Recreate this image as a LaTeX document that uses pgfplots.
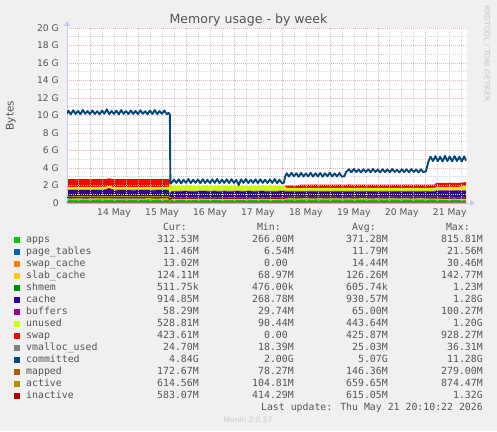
\documentclass[border=0pt]{standalone}
\usepackage{pgfplots}
\pgfplotsset{compat=1.18}
\usepackage{pgfplotstable}
\usepackage{fontspec}
\setmainfont{DejaVu Sans}
\newfontfamily\monofont{DejaVu Sans Mono}
\usetikzlibrary{arrows.meta}
\definecolor{bgc}{HTML}{F0F0F0}
\definecolor{txt}{HTML}{555555}
\definecolor{axc}{HTML}{C8CCF5}
\definecolor{mgrid}{HTML}{F0B4B4}
\definecolor{ngrid}{HTML}{D4D4D4}
\definecolor{cApps}{HTML}{00CC00}
\definecolor{cPt}{HTML}{0066B3}
\definecolor{cSwc}{HTML}{FF8000}
\definecolor{cSlab}{HTML}{FFCC00}
\definecolor{cShm}{HTML}{008F00}
\definecolor{cCache}{HTML}{330099}
\definecolor{cBuf}{HTML}{990099}
\definecolor{cUnused}{HTML}{CCFF00}
\definecolor{cSwap}{HTML}{FF0000}
\definecolor{cVmal}{HTML}{808080}
\definecolor{cComm}{HTML}{00487D}
\definecolor{cMapped}{HTML}{B35A00}
\definecolor{cActive}{HTML}{B38F00}
\definecolor{cInact}{HTML}{B30000}

\pgfplotstableread{
x apps pt swc slab shm cache buf unused swap vmal mapped active inactive
0.52 0.34 0.012 0.018 0.130 0.0006 0.96 0.060 0.30 0.90 0.024 0.13 0.72 0.62
0.60 0.35 0.012 0.019 0.131 0.0006 0.95 0.061 0.31 0.90 0.025 0.14 0.70 0.60
0.70 0.33 0.012 0.018 0.129 0.0006 0.97 0.062 0.29 0.90 0.024 0.12 0.73 0.63
0.80 0.36 0.011 0.017 0.132 0.0006 0.94 0.063 0.30 0.90 0.025 0.15 0.71 0.61
0.90 0.34 0.012 0.018 0.130 0.0006 0.96 0.064 0.31 0.90 0.026 0.13 0.74 0.59
1.00 0.33 0.012 0.019 0.128 0.0006 0.97 0.060 0.29 0.90 0.024 0.14 0.70 0.62
1.10 0.35 0.013 0.018 0.131 0.0006 0.95 0.061 0.30 0.90 0.025 0.16 0.72 0.64
1.20 0.37 0.012 0.017 0.133 0.0006 0.93 0.062 0.32 0.90 0.025 0.13 0.75 0.60
1.30 0.34 0.012 0.018 0.130 0.0006 0.98 0.063 0.28 0.90 0.024 0.14 0.71 0.61
1.40 0.36 0.012 0.019 0.129 0.0006 1.12 0.064 0.22 0.90 0.026 0.15 0.73 0.63
1.50 0.33 0.012 0.018 0.131 0.0006 0.96 0.060 0.30 0.90 0.025 0.12 0.70 0.60
1.60 0.35 0.011 0.017 0.130 0.0006 0.95 0.061 0.31 0.90 0.024 0.14 0.72 0.62
1.70 0.34 0.012 0.018 0.132 0.0006 0.97 0.062 0.29 0.90 0.025 0.13 0.74 0.61
1.80 0.36 0.012 0.019 0.129 0.0006 0.94 0.063 0.30 0.90 0.025 0.15 0.71 0.59
1.90 0.33 0.013 0.018 0.130 0.0006 0.96 0.064 0.31 0.90 0.024 0.14 0.72 0.63
2.00 0.35 0.012 0.017 0.131 0.0006 0.95 0.060 0.30 0.90 0.026 0.13 0.70 0.60
2.10 0.34 0.012 0.018 0.128 0.0006 0.97 0.061 0.29 0.90 0.025 0.16 0.73 0.62
2.20 0.37 0.012 0.019 0.130 0.0006 0.93 0.062 0.32 0.90 0.024 0.14 0.75 0.64
2.30 0.33 0.012 0.018 0.132 0.0006 0.96 0.063 0.30 0.90 0.025 0.13 0.71 0.61
2.40 0.35 0.011 0.017 0.131 0.0006 0.95 0.064 0.31 0.90 0.025 0.15 0.72 0.60
2.50 0.34 0.012 0.018 0.129 0.0006 0.97 0.060 0.29 0.90 0.024 0.14 0.70 0.62
2.60 0.36 0.012 0.019 0.130 0.0006 0.94 0.061 0.31 0.90 0.025 0.13 0.73 0.61
2.64 0.35 0.012 0.018 0.130 0.0006 0.92 0.062 0.33 0.90 0.025 0.14 0.72 0.60
2.66 0.55 0.013 0.030 0.140 0.0012 0.27 0.030 1.20 0.40 0.036 0.08 0.20 0.42
2.70 0.33 0.012 0.012 0.125 0.0005 0.84 0.066 0.54 0.00 0.025 0.12 0.60 0.57
2.80 0.32 0.012 0.013 0.126 0.0005 0.86 0.065 0.53 0.01 0.025 0.13 0.62 0.58
2.90 0.34 0.012 0.012 0.124 0.0005 0.85 0.064 0.52 0.01 0.024 0.14 0.61 0.56
3.00 0.33 0.011 0.013 0.125 0.0005 0.87 0.066 0.52 0.01 0.025 0.12 0.63 0.59
3.10 0.31 0.012 0.012 0.126 0.0005 0.86 0.065 0.55 0.01 0.026 0.13 0.60 0.57
3.20 0.33 0.012 0.013 0.124 0.0005 0.84 0.064 0.54 0.01 0.025 0.14 0.62 0.58
3.30 0.35 0.012 0.012 0.125 0.0005 0.86 0.066 0.50 0.01 0.024 0.13 0.64 0.60
3.40 0.32 0.012 0.013 0.126 0.0005 0.88 0.065 0.52 0.01 0.025 0.12 0.61 0.56
3.50 0.33 0.011 0.012 0.124 0.0005 0.85 0.064 0.54 0.01 0.025 0.14 0.62 0.58
3.60 0.34 0.012 0.013 0.125 0.0005 0.86 0.066 0.51 0.01 0.024 0.13 0.60 0.57
3.70 0.32 0.012 0.012 0.126 0.0005 0.84 0.065 0.55 0.01 0.026 0.12 0.63 0.59
3.80 0.33 0.012 0.013 0.124 0.0005 0.87 0.064 0.52 0.01 0.025 0.14 0.62 0.58
3.90 0.31 0.012 0.012 0.125 0.0005 0.86 0.066 0.54 0.01 0.025 0.13 0.61 0.56
4.00 0.34 0.011 0.013 0.126 0.0005 0.85 0.065 0.52 0.01 0.024 0.12 0.60 0.57
4.10 0.33 0.012 0.012 0.124 0.0005 0.87 0.064 0.51 0.01 0.025 0.13 0.63 0.59
4.20 0.32 0.012 0.013 0.125 0.0005 0.84 0.066 0.55 0.01 0.025 0.14 0.62 0.58
4.30 0.35 0.012 0.012 0.126 0.0005 0.86 0.065 0.50 0.01 0.026 0.13 0.61 0.57
4.40 0.33 0.012 0.013 0.124 0.0005 0.85 0.064 0.53 0.01 0.025 0.12 0.64 0.60
4.50 0.32 0.011 0.012 0.125 0.0005 0.87 0.066 0.52 0.01 0.024 0.14 0.62 0.58
4.60 0.34 0.012 0.013 0.126 0.0005 0.86 0.065 0.51 0.01 0.025 0.13 0.60 0.56
4.70 0.33 0.012 0.012 0.124 0.0005 0.84 0.064 0.54 0.01 0.025 0.12 0.63 0.59
4.80 0.31 0.012 0.013 0.125 0.0005 0.86 0.066 0.53 0.01 0.026 0.14 0.61 0.57
4.90 0.33 0.012 0.012 0.126 0.0005 0.85 0.065 0.53 0.01 0.025 0.13 0.62 0.58
5.00 0.34 0.012 0.013 0.124 0.0005 0.87 0.064 0.50 0.01 0.025 0.12 0.60 0.57
5.06 0.33 0.012 0.012 0.125 0.0005 0.86 0.065 0.52 0.01 0.024 0.13 0.61 0.58
5.10 0.36 0.012 0.014 0.125 0.0005 0.80 0.065 0.34 0.30 0.025 0.15 0.65 0.61
5.20 0.37 0.012 0.015 0.126 0.0005 0.79 0.066 0.35 0.30 0.025 0.16 0.66 0.62
5.30 0.35 0.011 0.014 0.124 0.0005 0.81 0.064 0.34 0.30 0.024 0.14 0.67 0.60
5.40 0.36 0.012 0.015 0.125 0.0005 0.80 0.065 0.33 0.38 0.025 0.15 0.65 0.63
5.50 0.38 0.012 0.014 0.126 0.0005 0.78 0.066 0.35 0.38 0.026 0.16 0.68 0.61
5.60 0.35 0.012 0.015 0.124 0.0005 0.82 0.064 0.34 0.38 0.025 0.14 0.64 0.62
5.70 0.36 0.012 0.014 0.125 0.0005 0.80 0.065 0.36 0.38 0.025 0.15 0.66 0.60
5.80 0.37 0.011 0.015 0.126 0.0005 0.79 0.066 0.33 0.38 0.024 0.16 0.67 0.64
5.90 0.35 0.012 0.014 0.124 0.0005 0.81 0.064 0.35 0.38 0.025 0.14 0.65 0.61
6.00 0.36 0.012 0.015 0.125 0.0005 0.80 0.065 0.34 0.38 0.025 0.15 0.68 0.62
6.10 0.38 0.012 0.014 0.126 0.0005 0.78 0.066 0.33 0.38 0.026 0.16 0.66 0.60
6.20 0.35 0.012 0.015 0.124 0.0005 0.82 0.064 0.35 0.38 0.025 0.14 0.64 0.63
6.30 0.36 0.012 0.014 0.125 0.0005 0.80 0.065 0.34 0.38 0.025 0.15 0.67 0.61
6.40 0.37 0.011 0.015 0.126 0.0005 0.79 0.066 0.36 0.38 0.024 0.16 0.65 0.62
6.50 0.35 0.012 0.014 0.124 0.0005 0.81 0.064 0.33 0.38 0.025 0.14 0.66 0.60
6.60 0.36 0.012 0.015 0.125 0.0005 0.80 0.065 0.35 0.38 0.025 0.15 0.68 0.64
6.70 0.38 0.012 0.014 0.126 0.0005 0.78 0.066 0.34 0.38 0.026 0.16 0.65 0.61
6.80 0.35 0.012 0.015 0.124 0.0005 0.82 0.064 0.33 0.38 0.025 0.14 0.67 0.62
6.90 0.36 0.012 0.014 0.125 0.0005 0.80 0.065 0.35 0.38 0.025 0.15 0.66 0.60
7.00 0.37 0.011 0.015 0.126 0.0005 0.79 0.066 0.34 0.38 0.024 0.16 0.64 0.63
7.10 0.35 0.012 0.014 0.124 0.0005 0.81 0.064 0.36 0.38 0.025 0.14 0.68 0.61
7.20 0.36 0.012 0.015 0.125 0.0005 0.80 0.065 0.33 0.38 0.025 0.15 0.65 0.62
7.30 0.38 0.012 0.014 0.126 0.0005 0.78 0.066 0.35 0.38 0.026 0.16 0.67 0.60
7.40 0.35 0.012 0.015 0.124 0.0005 0.82 0.064 0.34 0.38 0.025 0.14 0.66 0.64
7.50 0.36 0.012 0.014 0.125 0.0005 0.80 0.065 0.33 0.38 0.025 0.15 0.64 0.61
7.60 0.37 0.011 0.015 0.126 0.0005 0.79 0.066 0.35 0.38 0.024 0.16 0.68 0.62
7.70 0.35 0.012 0.014 0.124 0.0005 0.81 0.064 0.34 0.38 0.025 0.14 0.65 0.60
7.80 0.36 0.012 0.015 0.125 0.0005 0.80 0.065 0.36 0.38 0.025 0.15 0.67 0.63
7.90 0.38 0.012 0.014 0.126 0.0005 0.78 0.066 0.33 0.38 0.026 0.16 0.66 0.61
8.00 0.35 0.012 0.015 0.124 0.0005 0.82 0.064 0.35 0.38 0.025 0.14 0.64 0.62
8.10 0.36 0.012 0.014 0.125 0.0005 0.80 0.065 0.34 0.38 0.025 0.15 0.67 0.60
8.18 0.36 0.012 0.014 0.125 0.0005 0.80 0.065 0.34 0.38 0.025 0.15 0.66 0.61
8.22 0.33 0.012 0.015 0.125 0.0006 0.90 0.060 0.40 0.46 0.025 0.16 0.62 0.58
8.30 0.34 0.012 0.014 0.124 0.0006 0.89 0.061 0.41 0.46 0.025 0.17 0.63 0.59
8.40 0.32 0.012 0.015 0.125 0.0006 0.91 0.059 0.39 0.46 0.024 0.16 0.61 0.57
8.50 0.33 0.011 0.014 0.124 0.0006 0.90 0.060 0.42 0.46 0.025 0.17 0.62 0.58
8.60 0.34 0.012 0.013 0.125 0.0006 0.88 0.058 0.40 0.46 0.025 0.18 0.63 0.59
8.70 0.32 0.012 0.014 0.124 0.0006 0.91 0.059 0.41 0.46 0.025 0.17 0.61 0.58
8.80 0.31 0.012 0.013 0.124 0.0005 0.92 0.058 0.50 0.43 0.025 0.17 0.62 0.58
8.84 0.3125 0.0115 0.013 0.124 0.0005 0.915 0.058 0.529 0.424 0.0247 0.173 0.615 0.583
}\memdata

\pgfplotstableread{
x committed
0.52 10.20
0.55 10.55
0.60 10.15
0.65 10.60
0.70 10.18
0.75 10.52
0.80 10.15
0.85 10.62
0.90 10.20
0.95 10.50
1.00 10.16
1.05 10.58
1.10 10.18
1.15 10.48
1.20 10.14
1.25 10.55
1.30 10.20
1.35 10.70
1.40 10.15
1.45 10.50
1.50 10.18
1.55 10.56
1.60 10.14
1.65 10.62
1.70 10.20
1.75 10.50
1.80 10.16
1.85 10.58
1.90 10.18
1.95 10.52
2.00 10.15
2.05 10.60
2.10 10.20
2.15 10.48
2.20 10.15
2.25 10.56
2.30 10.18
2.35 10.62
2.40 10.16
2.45 10.50
2.50 10.20
2.55 10.58
2.60 10.15
2.64 10.30
2.665 10.10
2.675 2.30
2.70 2.28
2.75 2.68
2.80 2.30
2.85 2.72
2.90 2.25
2.95 2.65
3.00 2.30
3.05 2.75
3.10 2.28
3.15 2.66
3.20 2.30
3.25 2.70
3.30 2.26
3.35 2.72
3.40 2.30
3.45 2.64
3.50 2.28
3.55 2.70
3.60 2.30
3.65 2.74
3.70 2.27
3.75 2.66
3.80 2.30
3.85 2.70
3.90 2.28
3.95 2.72
4.00 2.30
4.05 2.65
4.10 2.05
4.15 2.70
4.20 2.30
4.25 2.74
4.30 2.28
4.35 2.66
4.40 2.30
4.45 2.70
4.50 2.27
4.55 2.72
4.60 2.30
4.65 2.66
4.70 2.28
4.75 2.70
4.80 2.30
4.85 2.74
4.90 2.26
4.95 2.65
5.00 2.28
5.04 2.30
5.07 3.05
5.10 3.40
5.15 3.02
5.20 3.45
5.25 3.05
5.30 3.40
5.35 3.00
5.40 3.44
5.45 3.03
5.50 3.38
5.55 3.05
5.60 3.45
5.65 3.02
5.70 3.40
5.75 3.04
5.80 3.43
5.85 3.00
5.90 3.40
5.95 3.05
6.00 3.45
6.05 3.03
6.10 3.38
6.15 3.04
6.20 3.42
6.25 3.02
6.30 3.05
6.34 3.55
6.40 3.85
6.45 3.52
6.50 3.88
6.55 3.55
6.60 3.82
6.65 3.50
6.70 3.86
6.75 3.54
6.80 3.84
6.85 3.52
6.90 3.88
6.95 3.55
7.00 3.82
7.05 3.50
7.10 3.86
7.15 3.53
7.20 3.84
7.25 3.52
7.30 3.88
7.35 3.55
7.40 3.80
7.45 3.50
7.50 3.86
7.55 3.54
7.60 3.84
7.65 3.52
7.70 3.87
7.75 3.55
7.80 3.82
7.85 3.50
7.90 3.85
7.95 3.53
8.00 3.60
8.06 4.80
8.10 5.30
8.15 4.80
8.20 5.35
8.25 4.78
8.30 5.28
8.35 4.75
8.40 5.38
8.45 4.80
8.50 5.30
8.55 4.76
8.60 5.35
8.65 4.80
8.70 5.28
8.75 4.75
8.80 5.32
8.84 4.84
}\commdata

\tikzset{lg/.style={font=\monofont\fontsize{9.9}{11}\selectfont, text=txt, inner sep=0pt}}
\newcommand{\lrow}[7]{%
  \pgfmathsetmacro{\yy}{431-240-11.98*#1}
  \fill[#2] (14,\yy-3) rectangle (20,\yy+3);
  \node[lg, anchor=mid west] at (26,\yy) {#3};
  \node[lg, anchor=mid east] at (199,\yy) {#4};
  \node[lg, anchor=mid east] at (294,\yy) {#5};
  \node[lg, anchor=mid east] at (388,\yy) {#6};
  \node[lg, anchor=mid east] at (483,\yy) {#7};
}

\pgfplotsset{
  memaxis/.style={
    at={(67bp,228bp)}, anchor=south west,
    scale only axis, width=400bp, height=175bp,
    xmin=0.52, xmax=8.86, ymin=0, ymax=20,
  }
}

\begin{document}
\begin{tikzpicture}[x=1bp,y=1bp]
\fill[bgc] (0,0) rectangle (497,431);
\fill[white] (67,228) rectangle (467,403);

\begin{axis}[memaxis,
  axis x line*=bottom, axis y line*=left,
  axis on top,
  x axis line style={draw=axc, line width=0.9bp, -{Triangle[length=5bp,width=6bp]}, shorten >=-8bp},
  y axis line style={draw=axc, line width=0.9bp, -{Triangle[length=5bp,width=6bp]}, shorten >=-7bp},
  xtick={1,2,3,4,5,6,7,8}, xticklabels={},
  minor xtick={0.75,1.25,1.5,1.75,2.25,2.5,2.75,3.25,3.5,3.75,4.25,4.5,4.75,5.25,5.5,5.75,6.25,6.5,6.75,7.25,7.5,7.75,8.25,8.5,8.75},
  extra x ticks={1.5,2.5,3.5,4.5,5.5,6.5,7.5,8.5},
  extra x tick labels={14 May,15 May,16 May,17 May,18 May,19 May,20 May,21 May},
  extra x tick style={grid=none, xticklabel style={anchor=north, yshift=-5.5bp}},
  ytick={2,4,...,20},
  yticklabels={2 G,4 G,6 G,8 G,10 G,12 G,14 G,16 G,18 G,20 G},
  extra y ticks={0}, extra y tick labels={0},
  extra y tick style={grid=none},
  minor ytick={1,3,...,19},
  grid=both,
  major grid style={draw=mgrid, line width=0.6bp, dash pattern=on 1bp off 1bp},
  minor grid style={draw=ngrid, line width=0.6bp, dash pattern=on 1bp off 1bp},
  major tick length=0pt, minor tick length=0pt,
  tick style={draw=none},
  ticklabel style={font=\fontsize{9.2}{10}\selectfont, text=txt, inner sep=0pt},
  yticklabel style={anchor=east, xshift=-8bp},
  stack plots=y,
]
\addplot[fill=cApps, draw=none] table[x=x,y=apps]{\memdata} \closedcycle;
\addplot[fill=cPt, draw=none] table[x=x,y=pt]{\memdata} \closedcycle;
\addplot[fill=cSwc, draw=none] table[x=x,y=swc]{\memdata} \closedcycle;
\addplot[fill=cSlab, draw=none] table[x=x,y=slab]{\memdata} \closedcycle;
\addplot[fill=cShm, draw=none] table[x=x,y=shm]{\memdata} \closedcycle;
\addplot[fill=cCache, draw=none] table[x=x,y=cache]{\memdata} \closedcycle;
\addplot[fill=cBuf, draw=none] table[x=x,y=buf]{\memdata} \closedcycle;
\addplot[fill=cUnused, draw=none] table[x=x,y=unused]{\memdata} \closedcycle;
\addplot[fill=cSwap, draw=none] table[x=x,y=swap]{\memdata} \closedcycle;
\end{axis}

\begin{axis}[memaxis, hide axis]
\addplot[cVmal, line width=1.1bp] table[x=x,y=vmal]{\memdata};
\addplot[cComm, line width=1.9bp, line join=round] table[x=x,y=committed]{\commdata};
\addplot[cMapped, line width=1.1bp] table[x=x,y=mapped]{\memdata};
\addplot[cActive, line width=1.1bp] table[x=x,y=active]{\memdata};
\addplot[cInact, line width=1.1bp] table[x=x,y=inactive]{\memdata};
\end{axis}

% title and labels
\node[anchor=base, text=txt, font=\fontsize{12.6}{14}\selectfont, inner sep=0pt] at (248.5,407.4) {Memory usage - by week};
\node[rotate=90, text=txt, font=\fontsize{10.5}{12}\selectfont, inner sep=0pt] at (11,315.5) {Bytes};
\node[rotate=-90, text=black!22, font=\fontsize{7.5}{8}\selectfont, inner sep=0pt] at (487,377.5) {RRDTOOL / TOBI OETIKER};

% legend
\node[lg, anchor=mid east] at (187,203) {Cur:};
\node[lg, anchor=mid east] at (281,203) {Min:};
\node[lg, anchor=mid east] at (376,203) {Avg:};
\node[lg, anchor=mid east] at (470,203) {Max:};
\lrow{0}{cApps}{apps}{312.53M}{266.00M}{371.28M}{815.81M}
\lrow{1}{cPt}{page\_tables}{11.46M}{6.54M}{11.79M}{21.56M}
\lrow{2}{cSwc}{swap\_cache}{13.02M}{0.00\hphantom{M}}{14.44M}{30.46M}
\lrow{3}{cSlab}{slab\_cache}{124.11M}{68.97M}{126.26M}{142.77M}
\lrow{4}{cShm}{shmem}{511.75k}{476.00k}{605.74k}{1.23M}
\lrow{5}{cCache}{cache}{914.85M}{268.78M}{930.57M}{1.28G}
\lrow{6}{cBuf}{buffers}{58.29M}{29.74M}{65.00M}{100.27M}
\lrow{7}{cUnused}{unused}{528.81M}{90.44M}{443.64M}{1.20G}
\lrow{8}{cSwap}{swap}{423.61M}{0.00\hphantom{M}}{425.87M}{928.27M}
\lrow{9}{cVmal}{vmalloc\_used}{24.70M}{18.39M}{25.03M}{36.31M}
\lrow{10}{cComm}{committed}{4.84G}{2.00G}{5.07G}{11.28G}
\lrow{11}{cMapped}{mapped}{172.67M}{78.27M}{146.36M}{279.00M}
\lrow{12}{cActive}{active}{614.56M}{104.81M}{659.65M}{874.47M}
\lrow{13}{cInact}{inactive}{583.07M}{414.29M}{615.05M}{1.32G}
\node[lg, anchor=mid east] at (483,{431-240-11.98*14}) {Last update: Thu May 21 20:10:22 2026};
\node[text=black!20, font=\fontsize{7.5}{8}\selectfont, inner sep=0pt] at (248,{431-419.7}) {Munin 2.0.57};
\end{tikzpicture}
\end{document}
